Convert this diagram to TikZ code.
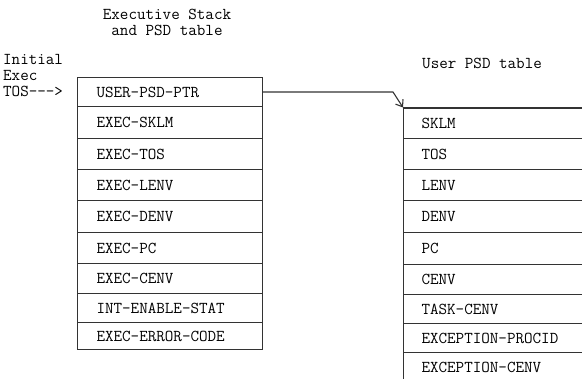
\documentclass[tikz,border=0pt]{standalone}
\usepackage{fontspec}
\usetikzlibrary{arrows.meta}
\newcommand\typefont{\ttfamily\addfontfeatures{FakeBold=3}\fontsize{16.6}{16}\selectfont}
\begin{document}
\begin{tikzpicture}[x=1pt, y=-1pt,
  ink/.style={draw=black!80, line width=1.1pt},
  txt/.style={font=\typefont, text=black, inner sep=0pt},
  lcell/.style={ink, txt, anchor=north west, text width=147pt, inner xsep=19pt,
    inner ysep=0pt, align=left},
  rcell/.style={ink, txt, anchor=north west, text width=164pt, inner xsep=18pt,
    inner ysep=0pt, align=left},
  pointer/.style={ink, -{Straight Barb[length=6pt, width=9pt, line width=1.1pt]}}
]
\path[use as bounding box, clip] (0,0) rectangle (582,379);

% headings
\node[txt, align=center] (head) at (167,22) {Executive Stack\\and PSD table};
\node[txt, anchor=west] (uhead) at (422,63) {User PSD table};
\node[txt, align=left, anchor=north west] (init) at (3,54) {Initial\\Exec\\TOS--->};

% executive stack rows
\foreach \t/\b/\lab [count=\i] in {
  77/106/USER-PSD-PTR, 106/138/EXEC-SKLM, 138/169/EXEC-TOS,
  169/200/EXEC-LENV, 200/232/EXEC-DENV, 232/263/EXEC-PC,
  263/293/EXEC-CENV, 293/322/INT-ENABLE-STAT, 322/349/EXEC-ERROR-CODE}
  \node[lcell, minimum height={\b-\t}] (L\i) at (77,\t) {\lab};

% user PSD rows
\foreach \t/\b/\lab [count=\i] in {
  107.5/138/SKLM, 138/169/TOS, 169/200/LENV, 200/232/DENV,
  232/264/PC, 264/294/CENV, 294/323/TASK-CENV,
  323/352/EXCEPTION-PROCID, 352/382/EXCEPTION-CENV}
  \node[rcell, minimum height={\b-\t}] (R\i) at (403,\t) {\lab};

% pointer from the executive table to the user table
\coordinate (bend) at (393,92);
\draw[pointer] (L1.east) -- (bend) -- (R1.north west);
\end{tikzpicture}
\end{document}
